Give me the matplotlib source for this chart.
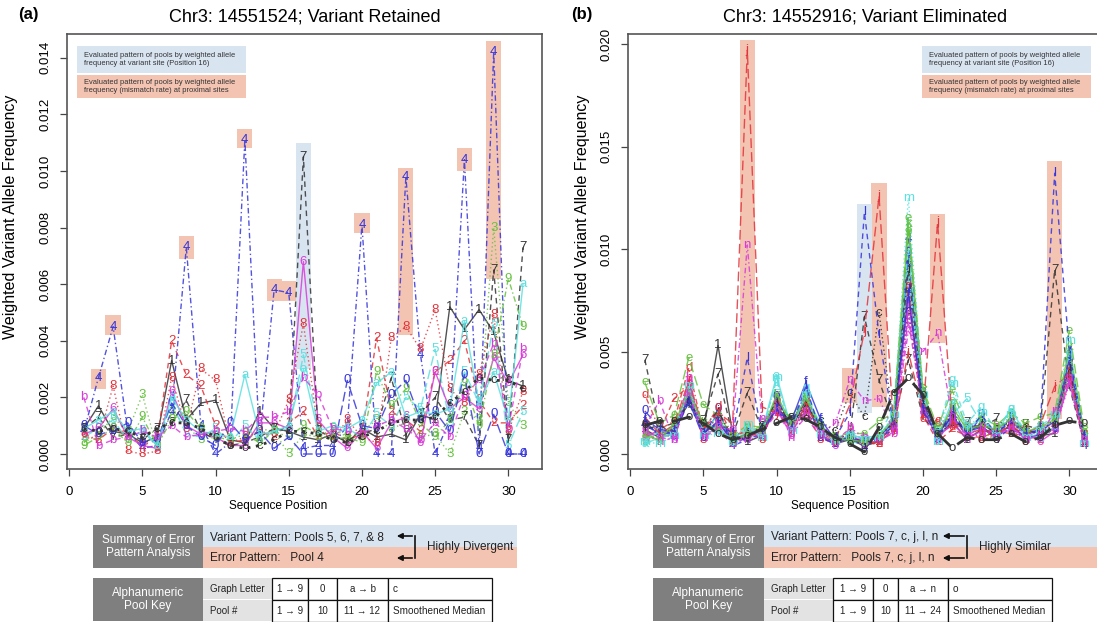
import matplotlib
matplotlib.use('Agg')
import matplotlib.pyplot as plt
from matplotlib.patches import Rectangle, FancyArrowPatch
from matplotlib.lines import Line2D

plt.rcParams['font.family'] = ['Liberation Sans', 'DejaVu Sans']

positions = list(range(1, 32))

# ---- panel (a): weighted allele frequency per pool (x 1e-3) ----
a_1 = [0.9, 1.7, 0.8, 0.7, 0.4, 0.6, 3.3, 1.2, 1.8, 1.9, 0.5, 0.4, 1.5, 0.9, 0.8, 0.6, 0.5, 0.7, 0.4, 0.9, 0.6, 0.7, 0.5, 1.4, 1.2, 5.2, 4.4, 5.1, 4.3, 2.6, 2.4]
a_2 = [0.6, 0.5, 0.9, 0.7, 0.3, 0.5, 4.0, 2.8, 2.4, 1.0, 0.4, 0.5, 0.8, 0.6, 1.1, 1.5, 0.6, 0.8, 0.5, 0.7, 4.1, 1.5, 1.2, 0.8, 2.9, 3.3, 4.0, 1.9, 1.1, 1.1, 1.7]
a_3 = [0.4, 0.7, 1.3, 0.8, 2.1, 0.2, 1.5, 1.0, 0.5, 0.6, 0.3, 0.4, 0.9, 0.8, 0.0, 0.7, 0.6, 0.9, 0.6, 0.8, 1.2, 0.9, 1.1, 0.6, 0.7, 0.0, 1.5, 1.2, 8.0, 1.8, 1.0]
a_4 = [0.8, 2.7, 4.5, 0.8, 0.2, 0.3, 1.5, 7.3, 1.0, 0.0, 0.4, 11.1, 0.5, 5.8, 5.7, 0.2, 0.3, 0.3, 1.0, 8.1, 0.0, 0.0, 9.8, 3.5, 0.0, 1.2, 10.4, 0.2, 14.2, 0.0, 0.0]
a_5 = [0.6, 0.9, 1.2, 0.5, 0.8, 0.3, 1.8, 0.7, 0.6, 0.9, 0.4, 1.0, 0.5, 0.8, 0.9, 3.5, 1.0, 0.7, 0.9, 0.6, 1.4, 1.0, 2.0, 1.6, 3.7, 1.1, 2.9, 1.8, 4.6, 0.3, 1.5]
a_6 = [0.7, 0.9, 1.6, 0.6, 0.3, 0.2, 2.2, 1.0, 0.7, 0.6, 0.3, 0.3, 1.1, 1.1, 0.9, 6.8, 1.2, 0.6, 0.2, 0.8, 0.2, 1.1, 1.3, 0.4, 2.9, 1.6, 2.0, 1.6, 3.4, 2.5, 3.5]
a_7 = [0.9, 1.3, 0.6, 0.7, 0.5, 0.9, 1.1, 1.9, 0.8, 0.5, 0.3, 0.4, 0.6, 0.9, 0.8, 10.5, 0.8, 0.6, 0.5, 0.7, 0.9, 2.7, 0.7, 1.4, 2.0, 1.2, 1.3, 0.3, 6.5, 0.5, 7.3]
a_8 = [0.7, 0.5, 2.4, 0.1, 0.0, 0.1, 2.7, 0.9, 3.0, 2.6, 0.4, 0.6, 0.8, 0.7, 1.9, 4.6, 0.9, 0.5, 1.2, 0.6, 0.4, 4.1, 4.5, 3.7, 5.1, 2.3, 1.8, 2.8, 4.9, 0.8, 2.2]
a_9 = [0.3, 0.6, 0.9, 0.4, 1.3, 0.3, 1.2, 1.5, 0.9, 0.6, 0.5, 0.7, 0.4, 0.8, 0.6, 1.0, 0.7, 0.5, 0.6, 0.4, 2.9, 1.7, 2.3, 1.1, 0.6, 1.2, 2.5, 1.0, 3.5, 6.2, 4.5]
a_0 = [1.0, 0.7, 0.8, 1.1, 0.4, 0.5, 1.8, 1.0, 0.6, 0.3, 1.1, 0.5, 0.8, 0.2, 0.6, 0.0, 0.0, 0.0, 2.6, 1.0, 0.9, 2.1, 2.6, 1.2, 1.5, 0.8, 2.8, 0.0, 1.4, 0.0, 0.0]
a_a = [0.9, 1.2, 1.5, 0.8, 0.9, 0.3, 2.0, 1.2, 0.8, 0.7, 0.6, 2.8, 0.7, 0.8, 1.0, 3.0, 0.8, 1.0, 0.9, 1.2, 2.5, 2.9, 1.3, 1.5, 1.4, 1.6, 4.7, 1.8, 2.9, 1.2, 6.0]
a_b = [2.0, 0.3, 0.5, 0.6, 0.8, 0.6, 1.0, 0.6, 0.7, 0.8, 0.9, 0.8, 1.3, 1.3, 1.5, 2.7, 2.1, 0.9, 0.8, 0.7, 1.0, 1.2, 0.9, 0.5, 1.1, 0.6, 2.1, 2.6, 3.9, 0.9, 3.7]
a_c = [0.9, 0.8, 0.9, 0.8, 0.6, 0.9, 1.1, 1.1, 0.9, 0.6, 0.3, 0.2, 0.3, 0.5, 0.8, 0.8, 0.7, 0.5, 0.4, 0.6, 0.8, 1.1, 1.2, 1.2, 1.3, 1.8, 2.2, 2.7, 2.6, 2.6, 2.3]
a_series = [a_1, a_2, a_3, a_4, a_5, a_6, a_7, a_8, a_9, a_0, a_a, a_b, a_c]
a_chars = ['1', '2', '3', '4', '5', '6', '7', '8', '9', '0', 'a', 'b', 'c']

# highlighted sites in (a): position, low, high (x 1e-3)
a_err_pos = [2, 3, 8, 12, 14, 15, 20, 23, 27, 29]
a_err_lo = [2.3, 4.2, 6.9, 10.8, 5.4, 5.4, 7.8, 4.2, 10.0, 6.2]
a_err_hi = [3.0, 4.9, 7.7, 11.5, 6.2, 6.1, 8.5, 10.1, 10.8, 14.6]
a_var_pos = [16]
a_var_lo = [3.0]
a_var_hi = [11.0]

# ---- panel (b) ----
b_1 = [1.2, 0.8, 1.0, 2.8, 1.1, 5.3, 1.0, 0.6, 0.9, 2.4, 1.3, 2.6, 1.0, 0.5, 0.7, 0.4, 0.6, 1.5, 9.5, 2.8, 0.8, 1.6, 0.7, 1.2, 0.9, 1.4, 0.8, 0.9, 1.0, 4.2, 0.6]
b_2 = [0.9, 1.1, 2.7, 3.3, 0.8, 1.6, 0.6, 1.0, 1.2, 2.0, 1.5, 1.9, 0.8, 0.5, 0.9, 0.6, 0.5, 1.3, 8.0, 1.9, 0.6, 1.2, 0.9, 0.8, 1.1, 1.0, 0.9, 0.7, 1.3, 3.8, 0.5]
b_3 = [0.6, 0.9, 1.3, 2.5, 1.2, 1.4, 0.5, 0.9, 1.0, 2.6, 1.1, 2.1, 1.2, 0.6, 0.8, 0.4, 0.7, 1.6, 11.0, 2.4, 0.7, 2.4, 1.2, 1.0, 0.8, 1.5, 1.0, 1.1, 1.4, 4.6, 0.7]
b_4 = [1.4, 1.0, 0.8, 3.0, 0.9, 2.0, 0.4, 0.7, 1.3, 2.2, 1.4, 3.0, 0.9, 0.5, 1.0, 0.3, 0.8, 1.2, 10.5, 3.0, 0.9, 1.7, 1.1, 1.4, 0.7, 1.3, 0.7, 1.0, 1.2, 5.0, 0.4]
b_5 = [1.0, 0.7, 1.1, 2.7, 1.3, 1.8, 0.6, 1.1, 0.8, 2.9, 1.2, 2.3, 1.4, 0.7, 0.6, 0.5, 0.9, 1.4, 9.0, 2.6, 0.6, 1.9, 2.7, 1.5, 1.0, 1.6, 0.9, 0.8, 1.6, 4.4, 0.8]
b_6 = [0.8, 1.2, 0.9, 3.5, 1.0, 1.5, 0.7, 0.8, 1.1, 2.3, 0.9, 2.5, 1.0, 0.4, 0.9, 0.6, 0.6, 1.1, 7.5, 2.2, 0.8, 1.5, 0.8, 1.1, 1.2, 1.1, 1.2, 0.6, 1.1, 3.6, 0.9]
b_7 = [4.6, 1.3, 1.5, 2.4, 1.6, 3.9, 0.9, 3.0, 1.2, 2.1, 1.6, 2.0, 1.3, 0.8, 0.9, 6.7, 3.6, 1.5, 4.6, 1.8, 1.0, 1.4, 1.5, 1.3, 1.7, 1.2, 1.4, 1.2, 9.0, 3.3, 0.6]
b_8 = [0.7, 0.9, 1.2, 2.9, 0.7, 1.7, 0.8, 1.2, 0.7, 2.7, 1.0, 2.2, 0.7, 0.6, 1.1, 0.5, 0.5, 1.7, 8.5, 2.5, 1.5, 1.8, 0.9, 0.7, 0.9, 1.7, 0.6, 1.3, 1.5, 4.0, 0.5]
b_9 = [1.1, 0.6, 1.4, 3.2, 1.4, 1.3, 0.6, 1.0, 1.4, 2.5, 1.7, 2.4, 1.1, 0.8, 0.7, 0.7, 0.8, 1.9, 10.8, 2.7, 0.9, 2.2, 1.0, 1.6, 1.1, 1.9, 1.1, 1.0, 1.8, 4.8, 1.0]
b_0 = [2.1, 1.3, 0.9, 2.6, 0.8, 2.2, 0.5, 0.8, 0.9, 2.8, 1.2, 2.7, 0.8, 0.5, 0.8, 0.4, 0.7, 1.4, 9.8, 2.3, 0.7, 2.0, 0.8, 1.9, 0.8, 1.4, 0.8, 0.9, 1.2, 4.5, 0.6]
b_a = [0.5, 0.8, 1.0, 2.9, 1.0, 1.2, 0.8, 1.3, 1.1, 3.8, 1.3, 2.8, 1.5, 0.6, 0.9, 0.8, 0.9, 1.8, 8.8, 2.9, 0.8, 2.6, 1.3, 1.7, 1.0, 2.2, 1.0, 0.8, 1.3, 4.1, 0.7]
b_b = [1.3, 2.6, 0.7, 3.4, 0.9, 1.1, 0.5, 0.9, 1.0, 2.0, 1.0, 1.8, 0.9, 0.7, 1.2, 0.6, 0.7, 1.0, 6.5, 2.1, 0.9, 1.4, 1.0, 0.9, 1.3, 1.3, 0.8, 1.2, 1.4, 3.5, 0.8]
b_c = [1.5, 1.0, 1.2, 2.6, 1.2, 1.7, 0.7, 0.8, 1.4, 2.1, 1.4, 2.2, 1.6, 1.1, 3.0, 1.8, 6.9, 1.4, 7.0, 2.0, 1.0, 1.5, 1.2, 1.4, 1.2, 1.6, 1.3, 1.1, 1.7, 3.9, 1.0]
b_d = [2.9, 1.2, 1.6, 4.2, 1.1, 2.3, 0.9, 1.1, 0.8, 2.4, 1.5, 2.6, 1.1, 0.6, 0.8, 0.5, 0.6, 1.2, 8.2, 1.7, 1.5, 1.3, 1.4, 1.2, 0.8, 1.5, 1.2, 1.0, 1.5, 4.3, 0.9]
b_e = [3.5, 1.5, 1.9, 4.7, 2.4, 1.9, 0.9, 1.4, 1.3, 2.3, 1.8, 2.9, 1.3, 0.9, 1.0, 1.0, 1.6, 2.0, 11.5, 3.2, 1.3, 3.1, 1.3, 1.8, 1.4, 2.0, 1.5, 1.8, 2.0, 6.0, 1.3]
b_f = [1.6, 0.9, 1.1, 2.8, 1.0, 1.6, 0.6, 1.0, 1.2, 2.2, 1.6, 3.5, 1.7, 0.7, 0.8, 0.6, 0.8, 1.6, 7.8, 2.4, 1.0, 1.8, 1.1, 1.3, 0.9, 1.8, 1.0, 1.1, 1.6, 4.7, 0.8]
b_g = [0.7, 1.1, 1.3, 3.1, 1.4, 1.3, 0.7, 1.2, 1.0, 3.6, 1.2, 3.2, 1.2, 0.8, 1.0, 0.7, 1.0, 2.2, 10.0, 2.8, 1.1, 3.6, 1.5, 2.3, 1.1, 2.2, 1.1, 1.4, 1.8, 4.9, 0.9]
b_h = [1.0, 0.6, 0.8, 3.7, 0.8, 1.4, 0.5, 0.7, 0.9, 2.5, 0.8, 2.0, 1.0, 0.5, 1.3, 0.8, 0.8, 1.3, 6.8, 2.0, 0.7, 1.6, 0.7, 1.0, 1.0, 1.2, 0.7, 0.9, 1.2, 3.4, 0.6]
b_i = [1.2, 1.4, 1.0, 2.7, 1.3, 2.1, 0.8, 0.9, 1.3, 2.6, 1.4, 2.4, 1.4, 0.6, 0.9, 0.5, 0.9, 1.5, 9.0, 2.6, 1.0, 1.9, 1.0, 1.5, 1.0, 1.5, 1.2, 1.0, 1.4, 4.2, 0.7]
b_j = [1.8, 1.0, 1.4, 3.6, 1.2, 2.0, 1.5, 19.7, 2.3, 2.0, 1.3, 2.3, 1.2, 0.7, 2.4, 6.0, 12.6, 1.2, 5.0, 2.0, 11.3, 1.6, 1.0, 1.2, 1.0, 1.4, 0.9, 1.4, 3.3, 3.9, 0.8]
b_k = [0.9, 0.7, 1.5, 3.0, 1.5, 1.2, 0.6, 1.0, 1.1, 2.9, 1.5, 2.7, 1.3, 0.7, 0.7, 0.6, 0.9, 1.7, 11.2, 3.1, 0.9, 2.3, 1.2, 1.4, 1.2, 1.7, 1.1, 1.3, 1.7, 5.2, 1.1]
b_l = [1.7, 1.2, 1.1, 2.5, 1.0, 1.5, 1.0, 4.7, 1.0, 2.2, 1.3, 3.3, 1.1, 0.8, 2.0, 11.8, 5.8, 1.3, 8.0, 2.1, 0.9, 2.1, 1.0, 1.9, 1.0, 1.6, 1.0, 1.2, 13.7, 5.0, 0.9]
b_m = [0.6, 0.5, 0.9, 3.3, 0.9, 1.0, 0.6, 1.4, 0.8, 3.7, 1.1, 2.9, 1.0, 0.6, 0.9, 0.7, 0.8, 1.9, 12.5, 2.9, 0.6, 3.4, 1.2, 2.0, 0.9, 1.9, 0.8, 1.1, 1.9, 5.5, 0.5]
b_n = [1.1, 0.8, 0.7, 3.0, 0.8, 1.3, 1.2, 10.2, 1.7, 2.1, 1.1, 2.1, 1.0, 1.5, 3.6, 2.6, 2.7, 1.1, 6.0, 5.0, 5.9, 1.8, 0.9, 1.3, 0.8, 1.4, 0.7, 0.9, 2.1, 3.7, 0.7]
b_o = [1.4, 1.6, 1.6, 1.8, 1.5, 1.0, 0.7, 0.9, 1.2, 1.5, 1.8, 1.7, 1.3, 0.8, 0.5, 0.1, 1.3, 3.0, 3.7, 2.9, 1.0, 0.3, 0.8, 0.7, 0.7, 1.0, 0.6, 0.8, 1.4, 1.6, 1.5]
b_series = [b_1, b_2, b_3, b_4, b_5, b_6, b_7, b_8, b_9, b_0, b_a, b_b, b_c, b_d,
            b_e, b_f, b_g, b_h, b_i, b_j, b_k, b_l, b_m, b_n, b_o]
b_chars = ['1', '2', '3', '4', '5', '6', '7', '8', '9', '0', 'a', 'b', 'c', 'd',
           'e', 'f', 'g', 'h', 'i', 'j', 'k', 'l', 'm', 'n', 'o']

b_err_pos = [8, 15, 17, 21, 29]
b_err_lo = [0.9, 2.5, 2.3, 5.4, 1.7]
b_err_hi = [20.2, 4.2, 13.2, 11.7, 14.3]
b_var_pos = [16]
b_var_lo = [2.0]
b_var_hi = [12.2]

# R-like palette / line types
colours = ['#333333', '#E2343C', '#66C23F', '#3535DA', '#5CE0E0', '#D83CD8']
ltys = ['-', (0, (4, 3)), (0, (1, 2)), (0, (1, 2, 4, 2)), (0, (7, 3))]
SALMON = '#F4C4B2'
BLUE = '#D9E4F1'

W, H = 1097, 622
fig = plt.figure(figsize=(W / 100, H / 100), dpi=100)


def fig_box(x0, y0, x1, y1, fc, ec='none', lw=0):
    fig.add_artist(Rectangle((x0 / W, 1 - y1 / H), (x1 - x0) / W, (y1 - y0) / H,
                             transform=fig.transFigure, facecolor=fc, edgecolor=ec, lw=lw))


def fig_text(x, y, s, **kw):
    fig.text(x / W, 1 - y / H, s, va='center', **kw)


def draw_panel(ax, series, chars, ylim, yticks, err, var, legend_x0, title, tag, tag_x):
    for pos, lo, hi in zip(*err):
        ax.add_patch(Rectangle((pos - 0.52, lo * 1e-3), 1.04, (hi - lo) * 1e-3,
                               facecolor=SALMON, edgecolor='none', zorder=0))
    for pos, lo, hi in zip(*var):
        ax.add_patch(Rectangle((pos - 0.52, lo * 1e-3), 1.04, (hi - lo) * 1e-3,
                               facecolor=BLUE, edgecolor='none', zorder=0))
    n = len(series)
    for k, (vals, ch) in enumerate(zip(series, chars)):
        col = colours[k % 6]
        med = k == n - 1
        y = [v * 1e-3 for v in vals]
        ax.plot(positions, y, color=col, ls=ltys[k % 5], lw=2.0 if med else 1.0,
                alpha=1.0 if med else 0.85, zorder=2 + k * 0.01)
        for xx, yy in zip(positions, y):
            ax.text(xx, yy, ch, color=col, fontsize=9.5, ha='center', va='center',
                    zorder=2 + k * 0.01)

    ax.set_xlim(-0.15, 32.3)
    ax.set_ylim(*ylim)
    ax.set_xticks([0, 5, 10, 15, 20, 25, 30])
    ax.set_yticks(yticks)
    ax.set_yticklabels(['%.3f' % t for t in yticks])
    ax.tick_params(axis='both', direction='out', length=5, width=0.9, labelsize=9.5,
                   color='#444444')
    ax.tick_params(axis='x', pad=7)
    ax.tick_params(axis='y', labelrotation=90, pad=6)
    plt.setp(ax.get_yticklabels(), va='center')
    for s in ax.spines.values():
        s.set_color('#555555')
        s.set_linewidth(1.2)

    ax.set_ylabel('Weighted Variant Allele Frequency', fontsize=11.5)
    ax.set_xlabel('Sequence Position', fontsize=8.5)
    ax.set_title(title, fontsize=13, pad=9)

    # in-plot legend boxes
    ax.add_patch(Rectangle((legend_x0, 0.910), 0.356, 0.062, transform=ax.transAxes,
                           facecolor=BLUE, edgecolor='none', zorder=4, clip_on=False))
    ax.add_patch(Rectangle((legend_x0, 0.853), 0.356, 0.053, transform=ax.transAxes,
                           facecolor=SALMON, edgecolor='none', zorder=4, clip_on=False))
    ax.text(legend_x0 + 0.015, 0.941,
            'Evaluated pattern of pools by weighted allele\nfrequency at variant site (Position 16)',
            transform=ax.transAxes, fontsize=5.4, va='center', color='#333333', zorder=5,
            linespacing=1.25)
    ax.text(legend_x0 + 0.015, 0.880,
            'Evaluated pattern of pools by weighted allele\nfrequency (mismatch rate) at proximal sites',
            transform=ax.transAxes, fontsize=5.4, va='center', color='#333333', zorder=5,
            linespacing=1.25)
    fig.text(tag_x / W, 1 - 15 / H, tag, fontsize=12, fontweight='bold', ha='center', va='center')


ax_a = fig.add_axes([67 / W, 1 - 469 / H, 475 / W, 435 / H])
ax_b = fig.add_axes([628 / W, 1 - 469 / H, 475 / W, 435 / H])

draw_panel(ax_a, a_series, a_chars, (-0.00053, 0.01484),
           [0, 0.002, 0.004, 0.006, 0.008, 0.010, 0.012, 0.014],
           (a_err_pos, a_err_lo, a_err_hi), (a_var_pos, a_var_lo, a_var_hi), 0.021,
           'Chr3: 14551524; Variant Retained', '(a)', 28)
draw_panel(ax_b, b_series, b_chars, (-0.00073, 0.02049),
           [0, 0.005, 0.010, 0.015, 0.020],
           (b_err_pos, b_err_lo, b_err_hi), (b_var_pos, b_var_lo, b_var_hi), 0.619,
           'Chr3: 14552916; Variant Eliminated', '(b)', 582)

ax_a.yaxis.set_label_coords(-0.103, 0.58)
ax_b.yaxis.set_label_coords(-0.08, 0.58)
ax_a.xaxis.set_label_coords(0.444, -0.071)
ax_b.xaxis.set_label_coords(0.446, -0.071)


# ---- summary / key tables under each panel ----
def summary(g0, g1, band_end, variant, error, verdict, arrow_x0, arrow_x1,
            key_l1, key_c, letters, pools):
    fig_box(g0, 525, g1, 568, '#7F7F7F')
    fig_text((g0 + g1) / 2, 546.5, 'Summary of Error\nPattern Analysis', ha='center',
             color='white', fontsize=8.5, linespacing=1.2)
    fig_box(g1, 525, band_end, 547, BLUE)
    fig_box(g1, 547, band_end, 568, SALMON)
    fig_text(g1 + 7, 537, variant, fontsize=8.5, color='#222222')
    fig_text(g1 + 7, 558, error, fontsize=8.5, color='#222222')
    for yy in (536, 558):
        fig.add_artist(FancyArrowPatch((arrow_x1 / W, 1 - yy / H), (arrow_x0 / W, 1 - yy / H),
                                       transform=fig.transFigure, arrowstyle='-|>',
                                       mutation_scale=8, color='#111111', lw=1.2))
    fig.add_artist(Line2D([arrow_x1 / W, arrow_x1 / W], [1 - 536 / H, 1 - 558 / H],
                          transform=fig.transFigure, color='#111111', lw=1.2))
    fig_text(arrow_x1 + 12, 547, verdict, fontsize=8.5, color='#222222')

    # alphanumeric key
    fig_box(g0, 578, g1, 621, '#7F7F7F')
    fig_text((g0 + g1) / 2, 599.5, 'Alphanumeric\nPool Key', ha='center', color='white',
             fontsize=8.5, linespacing=1.2)
    fig_box(g1, 578, key_l1, 599, '#E3E3E3')
    fig_box(g1, 600, key_l1, 621, '#E3E3E3')
    fig_text(g1 + 7, 589, 'Graph Letter', fontsize=7, color='#222222')
    fig_text(g1 + 7, 610.5, 'Pool #', fontsize=7, color='#222222')
    cols = [key_l1] + key_c
    for i in range(4):
        for r, (txt, yy) in enumerate(((letters[i], 578), (pools[i], 600))):
            fig_box(cols[i], yy, cols[i + 1], yy + 21.5, 'white', ec='#111111', lw=0.9)
            if i < 3:
                fig_text((cols[i] + cols[i + 1]) / 2, yy + 11, txt, ha='center',
                         fontsize=7, color='#222222')
            else:
                fig_text(cols[i] + 5, yy + 11, txt, fontsize=7.2, color='#222222')


summary(93, 203, 517, 'Variant Pattern: Pools 5, 6, 7, & 8', 'Error Pattern:   Pool 4',
        'Highly Divergent', 394, 415, 272, [308, 337, 388, 492],
        ['1 \u2192 9', '0', 'a \u2192 b', 'c'], ['1 \u2192 9', '10', '11 \u2192 12', 'Smoothened Median'])
summary(653, 764, 1097, 'Variant Pattern: Pools 7, c, j, l, n', 'Error Pattern:   Pools 7, c, j, l, n',
        'Highly Similar', 940, 967, 833, [873, 898, 948, 1052],
        ['1 \u2192 9', '0', 'a \u2192 n', 'o'], ['1 \u2192 9', '10', '11 \u2192 24', 'Smoothened Median'])

fig.savefig('out.png', dpi=100)
